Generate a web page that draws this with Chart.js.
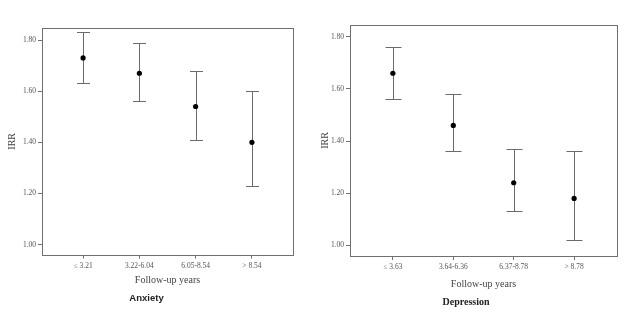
<!DOCTYPE html>
<html>
<head>
<meta charset="utf-8">
<script src="https://cdn.jsdelivr.net/npm/chart.js@4/dist/chart.umd.min.js"></script>
<style>
  body { margin: 0; background: #fff; }
  .box { position: absolute; top: 0; width: 315px; height: 313px; }
  #left { left: 0; }
  #right { left: 315px; }
</style>
</head>
<body>
<div class="box" id="left"><canvas id="anxietyChart" width="315" height="313"></canvas></div>
<div class="box" id="right"><canvas id="depressionChart" width="315" height="313"></canvas></div>
<script>
var yTicks = [1.00, 1.20, 1.40, 1.60, 1.80];

var anxietyLabels = ["\u2264 3.21", "3.22-6.04", "6.05-8.54", "> 8.54"];
var anxietyIrr = [1.73, 1.67, 1.54, 1.40];
var anxietyLow = [1.63, 1.56, 1.41, 1.23];
var anxietyHigh = [1.83, 1.79, 1.68, 1.60];

var depressionLabels = ["\u2264 3.63", "3.64-6.36", "6.37-8.78", "> 8.78"];
var depressionIrr = [1.66, 1.46, 1.24, 1.18];
var depressionLow = [1.56, 1.36, 1.13, 1.02];
var depressionHigh = [1.76, 1.58, 1.37, 1.36];

// draws the box round the plot and the CI whiskers, using the chart scales
var errorBarPlugin = {
  id: 'errorBars',
  beforeDatasetsDraw: function(chart, args, opts) {
    var ctx = chart.ctx, x = chart.scales.x, y = chart.scales.y;
    ctx.save();
    ctx.strokeStyle = '#6b6b6b';
    ctx.lineWidth = 1;
    for (var i = 0; i < opts.low.length; i++) {
      var px = Math.round(x.getPixelForValue(i)) + 0.5;
      var yl = Math.round(y.getPixelForValue(opts.low[i])) + 0.5;
      var yh = Math.round(y.getPixelForValue(opts.high[i])) + 0.5;
      ctx.beginPath();
      ctx.moveTo(px, yl); ctx.lineTo(px, yh);
      ctx.moveTo(px - opts.cap, yl); ctx.lineTo(px + opts.cap, yl);
      ctx.moveTo(px - opts.cap, yh); ctx.lineTo(px + opts.cap, yh);
      ctx.stroke();
    }
    var a = chart.chartArea;
    ctx.strokeStyle = '#707070';
    ctx.strokeRect(Math.round(a.left) + 0.5, Math.round(a.top) + 0.5,
                   Math.round(a.right - a.left), Math.round(a.bottom - a.top));
    ctx.restore();
  }
};

function makeChart(id, labels, irr, low, high, title, titleFont, cfg) {
  var points = irr.map(function(v, i) { return {x: i, y: v}; });
  return new Chart(document.getElementById(id).getContext('2d'), {
    type: 'scatter',
    data: {
      datasets: [{
        data: points,
        pointRadius: 2.6,
        pointStyle: 'circle',
        backgroundColor: '#000',
        borderColor: '#000',
        borderWidth: 0
      }]
    },
    plugins: [errorBarPlugin],
    options: {
      responsive: false,
      animation: false,
      events: [],
      layout: { padding: { top: cfg.top, right: cfg.right, left: 0, bottom: 0 } },
      plugins: {
        legend: { display: false },
        tooltip: { enabled: false },
        title: {
          display: true,
          position: 'bottom',
          text: title,
          color: '#222',
          font: titleFont,
          padding: { top: 0, bottom: cfg.titleBottom }
        },
        errorBars: { low: low, high: high, cap: cfg.cap }
      },
      scales: {
        x: {
          type: 'linear',
          min: -cfg.xPad,
          max: 3 + cfg.xPad,
          afterBuildTicks: function(s) { s.ticks = labels.map(function(l, i) { return {value: i}; }); },
          afterFit: function(s) { s.height = cfg.xHeight; },
          grid: { display: true, drawOnChartArea: false, drawTicks: true, tickLength: 4, color: '#707070' },
          border: { display: false },
          ticks: {
            padding: 3,
            color: '#555',
            font: { family: 'Liberation Serif', size: 7.5 },
            callback: function(v) { return labels[v]; }
          },
          title: {
            display: true,
            text: 'Follow-up years',
            color: '#444',
            font: { family: 'Liberation Serif', size: 10 },
            padding: { top: 0, bottom: cfg.xTitleBottom }
          }
        },
        y: {
          min: cfg.yMin,
          max: cfg.yMax,
          afterBuildTicks: function(s) { s.ticks = yTicks.map(function(v) { return {value: v}; }); },
          afterFit: function(s) { s.width = cfg.yWidth; },
          grid: { display: true, drawOnChartArea: false, drawTicks: true, tickLength: 4, color: '#707070' },
          border: { display: false },
          ticks: {
            padding: 2,
            color: '#555',
            font: { family: 'Liberation Serif', size: 7.5 },
            callback: function(v) { return v.toFixed(2); }
          },
          title: {
            display: true,
            text: 'IRR',
            color: '#444',
            font: { family: 'Liberation Serif', size: 10 },
            padding: { top: cfg.yTitleTop, bottom: 0 }
          }
        }
      }
    }
  });
}

makeChart('anxietyChart', anxietyLabels, anxietyIrr, anxietyLow, anxietyHigh, 'Anxiety',
  { family: 'Liberation Sans', size: 9.5, weight: 'bold' },
  { top: 28, right: 22, titleBottom: 9, xHeight: 38, xTitleBottom: 6, yWidth: 42, yTitleTop: 6,
    yMin: 0.961, yMax: 1.847, xPad: 0.73, cap: 6.5 });

makeChart('depressionChart', depressionLabels, depressionIrr, depressionLow, depressionHigh, 'Depression',
  { family: 'Liberation Serif', size: 10, weight: 'bold' },
  { top: 25, right: 13, titleBottom: 5, xHeight: 40, xTitleBottom: 6, yWidth: 35, yTitleTop: 4,
    yMin: 0.959, yMax: 1.845, xPad: 0.71, cap: 8 });
</script>
</body>
</html>
